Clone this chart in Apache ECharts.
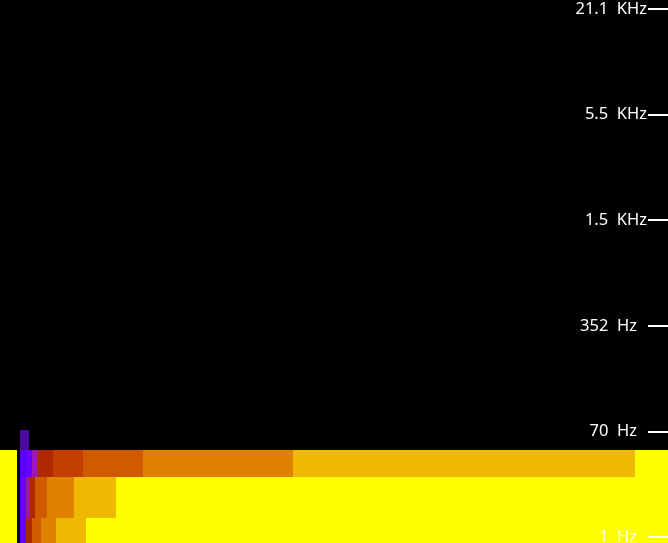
<!DOCTYPE html>
<html>
<head>
<meta charset="utf-8">
<script src="https://cdn.jsdelivr.net/npm/echarts@6/dist/echarts.min.js"></script>
<style>
  html, body { margin: 0; padding: 0; background: #000; }
  #chart { width: 668px; height: 543px; }
</style>
</head>
<body>
<div id="chart"></div>
<script>
// frequency tick labels (bottom to top)
var freqLabels = ['1  Hz', '70  Hz', '352  Hz', '1.5  KHz', '5.5  KHz', '21.1  KHz'];

// band limits on the frequency axis (bottom, top) for each row
var bandLow = [-0.07, 0.18, 0.566, 0.82];
var bandHigh = [0.18, 0.566, 0.82, 1.01];

// time edges and level per band (level indexes into the palette)
var band0Edges = [0, 17, 20, 26, 29, 32, 41, 56, 86, 668];
var band0Levels = [9, null, 2, 4, 4, 6, 7, 8, 9];

var band1Edges = [0, 17, 20, 26, 29, 35, 47, 74, 116, 668];
var band1Levels = [9, null, 2, 3, 4, 6, 7, 8, 9];

var band2Edges = [0, 17, 20, 26, 32, 38, 53, 83, 143, 293, 635, 668];
var band2Levels = [9, null, 1, 2, 3, 4, 5, 6, 7, 8, 9];

var band3Edges = [20, 29];
var band3Levels = [0];

var palette = ['#4b0a9e', '#5a00ff', '#6a00ff', '#9a1aaa', '#b02800',
               '#c43e00', '#d05a00', '#e08200', '#f0b800', '#ffff00'];

function buildCells(edges, levels, band) {
    var out = [];
    for (var i = 0; i < levels.length; i++) {
        if (levels[i] === null) continue;
        out.push([edges[i], edges[i + 1], bandLow[band], bandHigh[band], levels[i]]);
    }
    return out;
}

var cells = []
    .concat(buildCells(band0Edges, band0Levels, 0))
    .concat(buildCells(band1Edges, band1Levels, 1))
    .concat(buildCells(band2Edges, band2Levels, 2))
    .concat(buildCells(band3Edges, band3Levels, 3));

var myChart = echarts.init(document.getElementById('chart'));
myChart.setOption({
    backgroundColor: '#000',
    animation: false,
    grid: {
        left: 0,
        right: 20,
        top: 9,
        bottom: 6,
        containLabel: false,
        outerBoundsMode: 'none'
    },
    xAxis: {
        type: 'value',
        min: 0,
        max: 648,
        show: false
    },
    yAxis: {
        type: 'value',
        position: 'right',
        min: 0,
        max: 5,
        interval: 1,
        z: 10,
        axisLine: {show: false, onZero: false},
        splitLine: {show: false},
        axisTick: {
            show: true,
            length: 20,
            lineStyle: {color: '#fff', width: 2}
        },
        axisLabel: {
            inside: true,
            margin: 1,
            color: '#fff',
            fontFamily: 'Noto Sans',
            fontSize: 16.5,
            formatter: function (value) {
                var label = freqLabels[Math.round(value)];
                if (label.indexOf('KHz') >= 0) {
                    return '{k|' + label + '}';
                }
                return '{h|' + label + '}';
            },
            rich: {
                k: {color: '#fff', fontFamily: 'Noto Sans', fontSize: 16.5},
                h: {color: '#fff', fontFamily: 'Noto Sans', fontSize: 16.5, padding: [0, 10, 0, 0]}
            }
        }
    },
    series: [{
        type: 'custom',
        clip: false,
        silent: true,
        z: 1,
        renderItem: function (params, api) {
            var topLeft = api.coord([api.value(0), api.value(3)]);
            var bottomRight = api.coord([api.value(1), api.value(2)]);
            var x0 = Math.round(topLeft[0]);
            var y0 = Math.round(topLeft[1]);
            var x1 = Math.round(bottomRight[0]);
            var y1 = Math.round(bottomRight[1]);
            return {
                type: 'rect',
                shape: {x: x0, y: y0, width: x1 - x0, height: y1 - y0},
                style: {fill: palette[api.value(4)]}
            };
        },
        data: cells
    }]
});
</script>
</body>
</html>
